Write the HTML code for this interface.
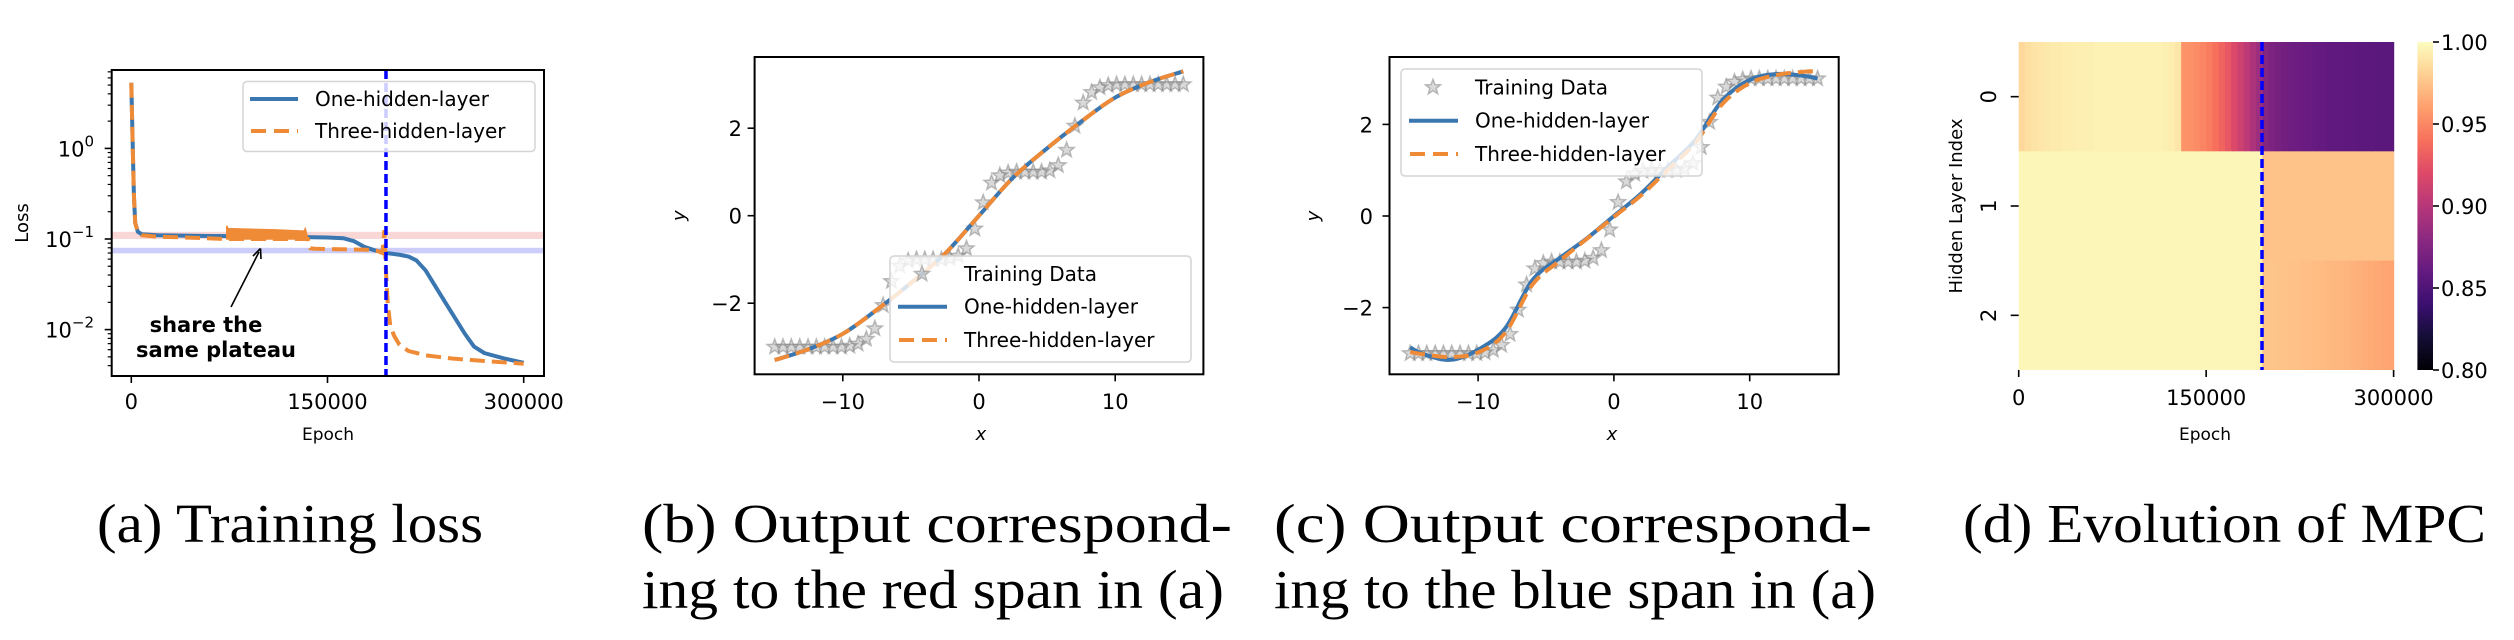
<!DOCTYPE html>
<html><head><meta charset="utf-8"><style>
html,body{margin:0;padding:0;background:#fff;}
svg{display:block;}
</style></head><body>
<svg id="fig" xmlns="http://www.w3.org/2000/svg" width="2514" height="640" viewBox="0 0 2514 640">
<defs>
<linearGradient id="magmaGrad" x1="0" y1="1" x2="0" y2="0"></linearGradient>
</defs>
<g font-family="'Liberation Serif', serif" font-size="55" fill="#000">
<text x="97" y="542" textLength="386" lengthAdjust="spacingAndGlyphs">(a) Training loss</text>
<text x="642" y="542" textLength="590" lengthAdjust="spacingAndGlyphs">(b)  Output  correspond-</text>
<text x="642" y="608" textLength="582" lengthAdjust="spacingAndGlyphs">ing to the red span in (a)</text>
<text x="1274" y="542" textLength="598" lengthAdjust="spacingAndGlyphs">(c)  Output  correspond-</text>
<text x="1274" y="608" textLength="602" lengthAdjust="spacingAndGlyphs">ing to the blue span in (a)</text>
<text x="1963" y="542" textLength="523" lengthAdjust="spacingAndGlyphs">(d) Evolution of MPC</text>
</g>
</svg>
<script>
// ---------- Panel (a) data ----------
const lossEpochOne = [0,1000,2000,3000,5000,8000,20000,60000,100000,150000,162000,170000,178000,186000,195000,205000,212000,218000,225000,240000,255000,262000,270000,285000,300000];
const lossValOne   = [5.3,1.2,0.3,0.15,0.12,0.113,0.11,0.108,0.107,0.104,0.102,0.095,0.082,0.075,0.07,0.067,0.064,0.058,0.045,0.02,0.009,0.0065,0.0055,0.0048,0.0043];
const lossEpochThree = [0,1000,2000,3000,5000,8000,20000,50000,73000,135000,137000,140000,160000,180000,188000,192000,193500,194500,196000,198000,201000,205000,212000,225000,245000,270000,300000];
const lossValThree   = [5.3,1.2,0.3,0.15,0.12,0.11,0.106,0.103,0.1,0.1,0.079,0.078,0.077,0.076,0.074,0.07,0.125,0.05,0.02,0.011,0.0085,0.0068,0.0058,0.0052,0.0048,0.0045,0.0042];
const oscEpoch = [73000,74000,110000,132000,133000,135000];
const oscHigh  = [0.14,0.13,0.126,0.122,0.13,0.1];
const oscLow   = [0.1,0.1,0.1,0.1,0.1,0.1];
const redSpan = [0.1, 0.12];
const blueSpan = [0.0695, 0.08];
const transitionEpoch = 194700;
const lossXTicks = [0,150000,300000];
const lossYTicks = [1,0.1,0.01];
const lossYTickExp = ["0","\u22121","\u22122"];

// ---------- Panel (b)/(c) data ----------
const trainX = [-15,-14.39,-13.78,-13.16,-12.55,-11.94,-11.33,-10.71,-10.10,-9.49,-8.88,-8.27,-7.65,-7.04,-6.43,-5.82,-5.20,-4.59,-3.98,-3.37,-2.76,-2.14,-1.53,-0.92,-0.31,0.31,0.92,1.53,2.14,2.76,3.37,3.98,4.59,5.20,5.82,6.43,7.04,7.65,8.27,8.88,9.49,10.10,10.71,11.33,11.94,12.55,13.16,13.78,14.39,15];
const trainY = [-3,-3,-3,-3,-3,-3,-3,-3,-3,-2.98,-2.93,-2.82,-2.58,-2.05,-1.5,-1.15,-1.03,-1.0,-1.0,-1.0,-1.0,-0.98,-0.92,-0.75,-0.3,0.3,0.75,0.92,0.98,1.0,1.0,1.0,1.0,1.03,1.15,1.5,2.05,2.58,2.82,2.93,2.98,3,3,3,3,3,3,3,3,3];
const fitXb = [-15,-12.5,-10,-7.5,-5,-2.5,0,2.5,5,7.5,10,12.5,15];
const fitOneB = [-3.3,-3.05,-2.7,-2.15,-1.54,-0.87,0,0.87,1.54,2.15,2.7,3.05,3.3];
const fitThreeB = [-3.3,-3.05,-2.7,-2.15,-1.54,-0.87,0,0.87,1.54,2.15,2.7,3.05,3.3];
const fitXc = [-15,-14,-12,-10,-8,-6,-4,-2,0,2,4,6,8,10,12,14,15];
const fitOneC = [-2.87,-3.02,-3.14,-2.92,-2.45,-1.4,-0.92,-0.49,0,0.49,1.08,1.66,2.53,2.97,3.1,3.06,3.0];
const fitThreeC = [-2.97,-3.02,-3.08,-2.98,-2.55,-1.5,-0.98,-0.5,-0.02,0.45,1.02,1.6,2.45,2.9,3.08,3.15,3.16];
const xyXTicks = [-10,0,10];
const xyYTicks = [-2,0,2];

// ---------- Panel (d) data ----------
const mpcRow0 = [0.984,0.987,0.989,0.990,0.991,0.992,0.992,0.993,0.993,0.994,0.994,0.994,0.995,0.995,0.995,0.995,0.995,0.995,0.995,0.995,0.995,0.995,0.995,0.994,0.993,0.990,
  0.955,0.954,0.952,0.949,0.945,0.940,0.934,0.927,0.919,0.911,0.903,0.895,0.887,
  0.876,0.872,0.869,0.867,0.865,0.864,0.863,0.862,0.861,0.860,0.859,0.858,0.858,0.857,0.857,0.856,0.856,0.856,0.855,0.855,0.855];
const mpcRow1 = [0.997,0.997,0.997,0.997,0.997,0.997,0.997,0.997,0.997,0.997,0.997,0.997,0.997,0.997,0.997,0.997,0.997,0.997,0.997,0.997,0.997,0.997,0.997,0.997,0.997,0.997,
  0.997,0.997,0.997,0.997,0.997,0.997,0.997,0.997,0.997,0.997,0.997,0.997,0.997,
  0.974,0.975,0.975,0.975,0.975,0.975,0.975,0.975,0.975,0.975,0.975,0.975,0.975,0.975,0.975,0.975,0.975,0.975,0.975,0.975,0.975];
const mpcRow2 = [0.997,0.997,0.997,0.997,0.997,0.997,0.997,0.997,0.997,0.997,0.997,0.997,0.997,0.997,0.997,0.997,0.997,0.997,0.997,0.997,0.997,0.997,0.997,0.997,0.997,0.997,
  0.997,0.997,0.997,0.997,0.997,0.997,0.997,0.997,0.997,0.997,0.997,0.997,0.996,
  0.976,0.976,0.975,0.975,0.974,0.974,0.973,0.973,0.972,0.972,0.971,0.970,0.970,0.969,0.968,0.967,0.966,0.965,0.964,0.963,0.962];
const mpcEpochMax = 300000;
const mpcXTicks = [0,150000,300000];
const mpcRowLabels = ["0","1","2"];
const cbarTicks = [1.00,0.95,0.90,0.85,0.80];
const magmaStops = ["#000004","#140e36","#3b0f70","#641a80","#8c2981","#b73779","#de4968","#f7705c","#fe9f6d","#fecf92","#fcfdbf"];

const NS = "http://www.w3.org/2000/svg";
const svg = document.getElementById("fig");
const BLUE = "#3a76b0", ORANGE = "#ef8a36";
const FONT = "'DejaVu Sans', 'Liberation Sans', sans-serif";
function mk(tag, attrs, parent) {
  const e = document.createElementNS(NS, tag);
  for (const k in attrs) e.setAttribute(k, attrs[k]);
  (parent || svg).appendChild(e);
  return e;
}
function txt(s, attrs, parent) { const t = mk("text", attrs, parent); t.textContent = s; return t; }
function lineP(pts) { return pts.map((p,i)=>(i?"L":"M")+p[0].toFixed(2)+","+p[1].toFixed(2)).join(""); }
function smoothP(pts) {
  let d = "M"+pts[0][0]+","+pts[0][1];
  for (let i=0;i<pts.length-1;i++){
    const p0=pts[Math.max(0,i-1)], p1=pts[i], p2=pts[i+1], p3=pts[Math.min(pts.length-1,i+2)];
    const c1=[p1[0]+(p2[0]-p0[0])/6, p1[1]+(p2[1]-p0[1])/6];
    const c2=[p2[0]-(p3[0]-p1[0])/6, p2[1]-(p3[1]-p1[1])/6];
    d+="C"+c1[0].toFixed(2)+","+c1[1].toFixed(2)+" "+c2[0].toFixed(2)+","+c2[1].toFixed(2)+" "+p2[0].toFixed(2)+","+p2[1].toFixed(2);
  }
  return d;
}

// ================= Panel (a) =================
(function(){
  const L=111.7,R=544,T=70,B=376;
  const g = mk("g",{});
  
  
  const xs = e => 131.3 + e*(523.7-131.3)/300000;
  const ys = v => 239 - (Math.log10(v)+1)*90.6;
  const clip = mk("clipPath",{id:"clipA"},g); mk("rect",{x:L,y:T,width:R-L,height:B-T},clip);
  const plot = mk("g",{"clip-path":"url(#clipA)"},g);
  const rs = mk("rect",{x:L,y:ys(redSpan[1]),width:R-L,height:ys(redSpan[0])-ys(redSpan[1]),fill:"#f4a6a6","fill-opacity":0.45},plot);
  
  
  const bs = mk("rect",{x:L,y:ys(blueSpan[1]),width:R-L,height:ys(blueSpan[0])-ys(blueSpan[1]),fill:"#9c9cf4","fill-opacity":0.5},plot);
  
  
  const one = mk("path",{d:lineP(lossEpochOne.map((e,i)=>[xs(e),ys(lossValOne[i])])),fill:"none",stroke:BLUE,"stroke-width":4,"stroke-linejoin":"round"},plot);
  
  
  const three = mk("path",{d:lineP(lossEpochThree.map((e,i)=>[xs(e),ys(lossValThree[i])])),fill:"none",stroke:ORANGE,"stroke-width":4,"stroke-dasharray":"15,7"},plot);
  
  
  const up = oscEpoch.map((e,i)=>[xs(e),ys(oscHigh[i])]);
  const lo = oscEpoch.map((e,i)=>[xs(e),ys(oscLow[i])]).reverse();
  const osc = mk("path",{d:lineP(up.concat(lo))+"Z",fill:ORANGE,stroke:ORANGE,"stroke-width":1.5},plot);
  
  
  const vl = mk("line",{x1:xs(transitionEpoch),x2:xs(transitionEpoch),y1:T,y2:B,stroke:"#0000ff","stroke-width":3.5,"stroke-dasharray":"9,4"},plot);
  
  
  const fr = mk("rect",{x:L,y:T,width:R-L,height:B-T,fill:"none",stroke:"#000","stroke-width":2},g);
  
  
  lossXTicks.forEach(t=>{
    mk("line",{x1:xs(t),x2:xs(t),y1:B,y2:B+7,stroke:"#000","stroke-width":1.6},g);
    const tl = txt(String(t),{x:xs(t),y:409,"text-anchor":"middle","font-family":FONT,"font-size":21},g);
    
    
  });
  for (let d=-3; d<=0; d++) for (let m=2;m<=9;m++){
    const v=m*Math.pow(10,d), y=ys(v);
    if (y>T && y<B) mk("line",{x1:L-4,x2:L,y1:y,y2:y,stroke:"#000","stroke-width":1.2},g);
  }
  lossYTicks.forEach((t,i)=>{
    mk("line",{x1:L-7,x2:L,y1:ys(t),y2:ys(t),stroke:"#000","stroke-width":1.6},g);
    const tl = txt("10",{x:94,y:ys(t)+8,"text-anchor":"end","font-family":FONT,"font-size":21},g);
    
    
    const sp = mk("tspan",{dy:-10,"font-size":15},tl); sp.textContent = lossYTickExp[i];
  });
  const xl = txt("Epoch",{x:328,y:440,"text-anchor":"middle","font-family":FONT,"font-size":17},g);
  
  
  const yl = txt("Loss",{x:0,y:0,"text-anchor":"middle","font-family":FONT,"font-size":18,transform:"translate(28,223) rotate(-90)"},g);
  
  
  const an = mk("g",{},g);
  
  
  mk("line",{x1:231,y1:307,x2:259,y2:252,stroke:"#000","stroke-width":1.6},an);
  mk("path",{d:"M260.5,248.5 L253,256 M260.5,248.5 L261,259",stroke:"#000","stroke-width":1.6,fill:"none"},an);
  txt("share the",{x:206,y:332,"text-anchor":"middle","font-family":FONT,"font-weight":"bold","font-size":21},an);
  txt("same plateau",{x:216,y:357,"text-anchor":"middle","font-family":FONT,"font-weight":"bold","font-size":21},an);
  const lg = mk("g",{},g);
  
  
  mk("rect",{x:243,y:81.5,width:292,height:70,rx:4,fill:"#fff","fill-opacity":0.8,stroke:"#d4d4d4","stroke-width":1.5},lg);
  mk("line",{x1:250,x2:298,y1:99,y2:99,stroke:BLUE,"stroke-width":4},lg);
  mk("line",{x1:251,x2:298,y1:131,y2:131,stroke:ORANGE,"stroke-width":4,"stroke-dasharray":"15,8"},lg);
  txt("One-hidden-layer",{x:315,y:106,"font-family":FONT,"font-size":20},lg);
  txt("Three-hidden-layer",{x:315,y:138,"font-family":FONT,"font-size":20},lg);
})();

// ================= Panels (b),(c) =================
function starPts(cx,cy,r){
  const p=[];
  for(let k=0;k<10;k++){const a=-Math.PI/2+k*Math.PI/5, rr=k%2?r*0.42:r; p.push((cx+rr*Math.cos(a)).toFixed(2)+","+(cy+rr*Math.sin(a)).toFixed(2));}
  return p.join(" ");
}
function xyPanel(cfg){
  const {L,R,T,B,x0,pxPerX,y0,pxPerY,fitX,fitOne,fitThree,tag,legend,ylabX,ytickX,xlabX} = cfg;
  const g = mk("g",{});
  
  
  const xs = v => x0 + v*pxPerX, ys = v => y0 - v*pxPerY;
  const stars = mk("g",{},g);
  
  
  trainX.forEach((xv,i)=>{
    const s = mk("polygon",{points:starPts(xs(xv),ys(trainY[i]),8),fill:"#808080","fill-opacity":0.3,stroke:"#808080","stroke-opacity":0.5,"stroke-width":1.5},stars);
    
    
  });
  const one = mk("path",{d:smoothP(fitX.map((v,i)=>[xs(v),ys(fitOne[i])])),fill:"none",stroke:BLUE,"stroke-width":4},g);
  
  
  const three = mk("path",{d:smoothP(fitX.map((v,i)=>[xs(v),ys(fitThree[i])])),fill:"none",stroke:ORANGE,"stroke-width":4,"stroke-dasharray":"15,7"},g);
  
  
  const fr = mk("rect",{x:L,y:T,width:R-L,height:B-T,fill:"none",stroke:"#000","stroke-width":2},g);
  
  
  xyXTicks.forEach(t=>{
    mk("line",{x1:xs(t),x2:xs(t),y1:B,y2:B+7,stroke:"#000","stroke-width":1.6},g);
    const tl = txt(t<0?"\u2212"+Math.abs(t):String(t),{x:xs(t),y:409,"text-anchor":"middle","font-family":FONT,"font-size":21},g);
    
    
  });
  xyYTicks.forEach(t=>{
    mk("line",{x1:L-7,x2:L,y1:ys(t),y2:ys(t),stroke:"#000","stroke-width":1.6},g);
    const tl = txt(t<0?"\u2212"+Math.abs(t):String(t),{x:ytickX,y:ys(t)+8,"text-anchor":"end","font-family":FONT,"font-size":21},g);
    
    
  });
  const xl = txt("x",{x:xlabX,y:440,"text-anchor":"middle","font-family":FONT,"font-style":"italic","font-size":18},g);
  
  
  const yl = txt("y",{x:0,y:0,"text-anchor":"middle","font-family":FONT,"font-style":"italic","font-size":18,transform:"translate("+ylabX+","+y0+") rotate(-90)"},g);
  
  
  const lg = mk("g",{},g);
  
  
  mk("rect",{x:legend.x,y:legend.y,width:legend.w,height:legend.h,rx:4,fill:"#fff","fill-opacity":0.8,stroke:"#d4d4d4","stroke-width":1.5},lg);
  const lx = legend.x+8, ty = legend.x+74;
  mk("polygon",{points:starPts(lx+24,legend.rows[0],8),fill:"#808080","fill-opacity":0.3,stroke:"#808080","stroke-opacity":0.5,"stroke-width":1.5},lg);
  mk("line",{x1:lx,x2:lx+49,y1:legend.rows[1],y2:legend.rows[1],stroke:BLUE,"stroke-width":4},lg);
  mk("line",{x1:lx+1,x2:lx+49,y1:legend.rows[2],y2:legend.rows[2],stroke:ORANGE,"stroke-width":4,"stroke-dasharray":"15,8"},lg);
  txt("Training Data",{x:ty,y:legend.rows[0]+7,"font-family":FONT,"font-size":20},lg);
  txt("One-hidden-layer",{x:ty,y:legend.rows[1]+7,"font-family":FONT,"font-size":20},lg);
  txt("Three-hidden-layer",{x:ty,y:legend.rows[2]+7,"font-family":FONT,"font-size":20},lg);
}
xyPanel({tag:"b",L:754.6,R:1203.4,T:57,B:374.3,x0:979,pxPerX:13.62,y0:215.7,pxPerY:43.75,fitX:fitXb,fitOne:fitOneB,fitThree:fitThreeB,
  ylabX:685,ytickX:742,xlabX:981,legend:{x:890,y:256,w:301,h:106,rows:[274,306.7,340]}});
xyPanel({tag:"c",L:1389.5,R:1838.7,T:57,B:374.3,x0:1613.9,pxPerX:13.58,y0:216,pxPerY:45.8,fitX:fitXc,fitOne:fitOneC,fitThree:fitThreeC,
  ylabX:1319,ytickX:1373,xlabX:1612,legend:{x:1401,y:69,w:301,h:107,rows:[87.3,120.7,154]}});

// ================= Panel (d) =================
(function(){
  const L=2018.7,R=2393.6,T=42,B=370;
  const g = mk("g",{});
  
  
  function hex(h){return [parseInt(h.substr(1,2),16),parseInt(h.substr(3,2),16),parseInt(h.substr(5,2),16)];}
  function magma(t){
    t=Math.max(0,Math.min(1,t)); const f=t*(magmaStops.length-1), i=Math.min(magmaStops.length-2,Math.floor(f)), r=f-i;
    const a=hex(magmaStops[i]), b=hex(magmaStops[i+1]);
    return "rgb("+a.map((v,k)=>Math.round(v+(b[k]-v)*r)).join(",")+")";
  }
  const col = v => magma((v-0.8)/0.2);
  const rows=[mpcRow0,mpcRow1,mpcRow2], rh=(B-T)/rows.length;
  rows.forEach((row,ri)=>{
    const cw=(R-L)/row.length;
    row.forEach((v,ci)=>{
      const c = mk("rect",{x:L+ci*cw,y:T+ri*rh,width:cw+0.6,height:rh+(ri<2?0.4:0),fill:col(v)},g);
      
      
    });
    mk("line",{x1:L-8,x2:L,y1:T+(ri+0.5)*rh,y2:T+(ri+0.5)*rh,stroke:"#000","stroke-width":1.6},g);
    const tl = txt(mpcRowLabels[ri],{x:0,y:0,"text-anchor":"middle","font-family":FONT,"font-size":21,transform:"translate(1996,"+(T+(ri+0.5)*rh)+") rotate(-90)"},g);
    
    
  });
  const xs = e => L + e/mpcEpochMax*(R-L);
  const vl = mk("line",{x1:xs(transitionEpoch),x2:xs(transitionEpoch),y1:T,y2:B,stroke:"#0000ff","stroke-width":3.5,"stroke-dasharray":"9,4"},g);
  
  
  mpcXTicks.forEach(t=>{
    mk("line",{x1:xs(t),x2:xs(t),y1:B,y2:B+7,stroke:"#000","stroke-width":1.6},g);
    const tl = txt(String(t),{x:xs(t),y:405,"text-anchor":"middle","font-family":FONT,"font-size":21},g);
    
    
  });
  const xl = txt("Epoch",{x:2205,y:440,"text-anchor":"middle","font-family":FONT,"font-size":17},g);
  
  
  const yl = txt("Hidden Layer Index",{x:0,y:0,"text-anchor":"middle","font-family":FONT,"font-size":18,transform:"translate(1962,206) rotate(-90)"},g);
  
  
  const grad = document.getElementById("magmaGrad");
  magmaStops.forEach((c,i)=>mk("stop",{offset:(i/(magmaStops.length-1)),"stop-color":c},grad));
  const cb = mk("rect",{x:2417.4,y:T,width:15.6,height:B-T,fill:"url(#magmaGrad)"},g);
  
  
  cbarTicks.forEach(t=>{
    const y = B - (t-0.8)/0.2*(B-T);
    mk("line",{x1:2433,x2:2439,y1:y,y2:y,stroke:"#000","stroke-width":1.6},g);
    const tl = txt(t.toFixed(2),{x:2441,y:y+8,"font-family":FONT,"font-size":21},g);
    
    
  });
})();
</script>
</body></html>
